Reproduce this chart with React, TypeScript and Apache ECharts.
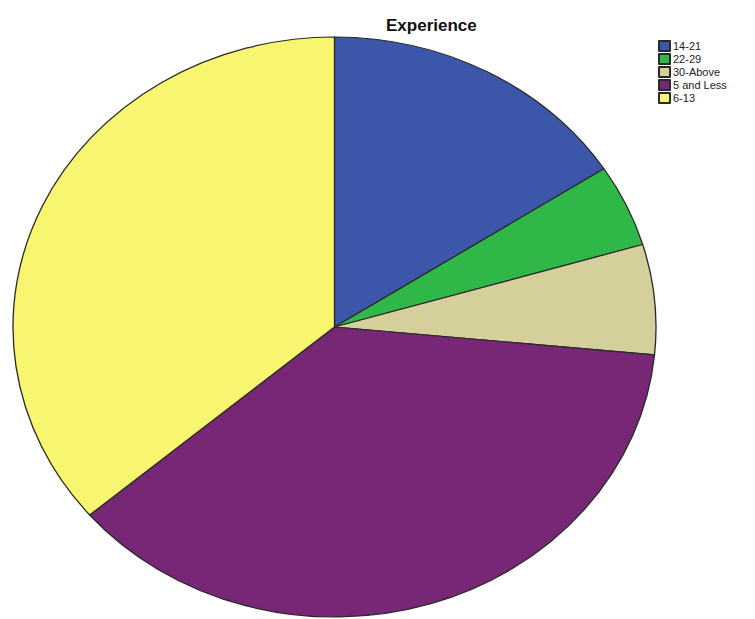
import React, { useEffect, useRef } from "react";
import * as echarts from "echarts";

const categories = ["14-21", "22-29", "30-Above", "5 and Less", "6-13"];
const counts = [31, 9, 12, 73, 71];
const colors = ["#3c56aa", "#2fb747", "#d4cf9b", "#782777", "#f8f670"];
const titleText = "Experience";

const W = 755;
const H = 619;
const CX = 334.5;
const CY = 327;
const RY = 290;
const RX = 321.5;

export default function App() {
  const pieRef = useRef<HTMLDivElement>(null);
  const overRef = useRef<HTMLDivElement>(null);

  useEffect(() => {
    const data = categories.map((name, i) => ({
      name,
      value: counts[i],
      itemStyle: { color: colors[i] },
    }));
    const pie = echarts.init(pieRef.current!, undefined, { renderer: "svg" });
    pie.setOption({
      animation: false,
      series: [
        {
          type: "pie",
          center: [CX, CY],
          radius: [0, RY],
          startAngle: 90,
          clockwise: true,
          silent: true,
          label: { show: false },
          labelLine: { show: false },
          itemStyle: { borderColor: "#2a2a2a", borderWidth: 1.2 },
          data,
        },
      ],
    });
    const over = echarts.init(overRef.current!, undefined, { renderer: "svg" });
    over.setOption({
      animation: false,
      title: {
        text: titleText,
        left: 381,
        top: 12,
        textStyle: {
          fontFamily: "Liberation Sans",
          fontWeight: "bold",
          fontSize: 17,
          color: "#111",
        },
      },
      legend: {
        orient: "vertical",
        left: 658,
        top: 40,
        icon: "rect",
        itemWidth: 11,
        itemHeight: 10,
        itemGap: 1,
        padding: 0,
        selectedMode: false,
        textStyle: {
          fontFamily: "Liberation Sans",
          fontSize: 11,
          lineHeight: 11,
          color: "#222",
          padding: [0, 0, 0, -2],
        },
        data: categories,
      },
      series: [
        {
          type: "pie",
          center: [-100, -100],
          radius: [0, 0],
          silent: true,
          label: { show: false },
          labelLine: { show: false },
          itemStyle: { borderColor: "#2a2a2a", borderWidth: 1 },
          data,
        },
      ],
    });
    return () => {
      pie.dispose();
      over.dispose();
    };
  }, []);

  return (
    <div
      style={{
        position: "fixed",
        left: 0,
        top: 0,
        width: W,
        height: H,
        background: "#fff",
        overflow: "hidden",
      }}
    >
      <div
        ref={pieRef}
        style={{
          position: "absolute",
          left: 0,
          top: 0,
          width: W,
          height: H,
          transform: `scaleX(${RX / RY})`,
          transformOrigin: `${CX}px ${CY}px`,
        }}
      />
      <div
        ref={overRef}
        style={{ position: "absolute", left: 0, top: 0, width: W, height: H }}
      />
    </div>
  );
}
